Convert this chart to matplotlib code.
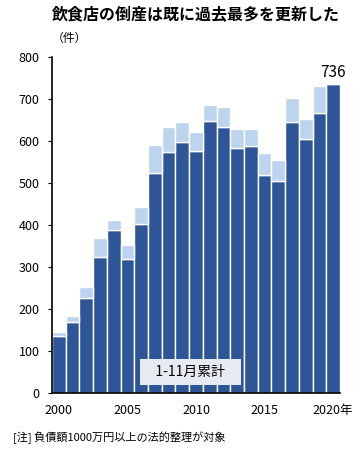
import numpy as np
import matplotlib.pyplot as plt

plt.rcParams['font.family'] = ['Noto Sans CJK JP', 'DejaVu Sans']

years = np.arange(2000, 2021)
# 1-11月累計
jan_nov = [136, 168, 225, 323, 388, 320, 402, 524, 575, 597, 577,
           648, 634, 584, 589, 519, 505, 646, 604, 668, 736]
# 通年
full_year = [145, 183, 252, 370, 413, 353, 442, 591, 633, 646, 622,
             685, 682, 629, 629, 571, 555, 703, 652, 731, 736]
xticks = [2000, 2005, 2010, 2015, 2020]
xticklabels = ['2000', '2005', '2010', '2015', '2020年']

dark = '#2E5597'
light = '#BDD4EE'

fig = plt.figure(figsize=(3.64, 4.5), dpi=100)
ax = fig.add_axes([0.143, 0.127, 0.791, 0.746])

dec = np.array(full_year) - np.array(jan_nov)
ax.bar(years, jan_nov, width=1.0, color=dark, edgecolor='white', linewidth=1.0)
ax.bar(years, dec, bottom=jan_nov, width=1.0, color=light, edgecolor='white', linewidth=1.0)

ax.set_xlim(1999.5, 2020.5)
ax.set_ylim(0, 800)
ax.set_yticks(range(0, 801, 100))
ax.set_xticks(xticks)
ax.set_xticklabels(xticklabels)
ax.tick_params(axis='y', labelsize=9, length=3, pad=6)
ax.tick_params(axis='x', labelsize=9, length=0, pad=8)
for s in ['top', 'right']:
    ax.spines[s].set_visible(False)
ax.spines['left'].set_linewidth(1.2)
ax.spines['bottom'].set_linewidth(1.2)

ax.text(years[-1], jan_nov[-1] + 8, '736', ha='center', va='bottom', fontsize=11)
ax.text(2009.6, 50, '   1-11月累計   ', ha='center', va='center', fontsize=10,
        bbox=dict(boxstyle='square,pad=0.45', facecolor='#E8EAF2', edgecolor='none'))

fig.text(0.143, 0.968, '飲食店の倒産は既に過去最多を更新した', fontsize=11.5,
         fontweight='bold', ha='left', va='center')
fig.text(0.143, 0.915, '（件）', fontsize=8.5, ha='left', va='center')
fig.text(0.035, 0.028, '[注] 負債額1000万円以上の法的整理が対象', fontsize=8, ha='left', va='center')

fig.savefig('out.png', dpi=100)
